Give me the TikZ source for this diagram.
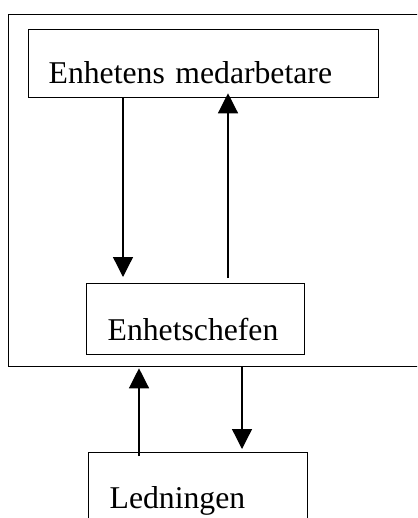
\documentclass[tikz,border=0pt]{standalone}
\usepackage{fontspec}
\setmainfont{Liberation Serif}
\usetikzlibrary{arrows.meta}
\begin{document}
\begin{tikzpicture}[x=1pt, y=-1pt, line width=1.3pt,
  box/.style={draw, rectangle, anchor=north west, inner ysep=0pt,
    align=left, font=\fontsize{31.7}{36}\selectfont},
  arr/.style={-{Triangle[length=20pt,width=20pt]}}]
\useasboundingbox (0,0) rectangle (417,518);
\clip (0,0) rectangle (417,518);

% outer frame (open to the right edge)
\node (frame) [draw, rectangle, anchor=north west, inner sep=0pt,
  minimum width=430pt, minimum height=352pt] at (8,14) {};

% boxes
\node (top) [box, inner xsep=20pt, text width=310pt,
  text height=54pt, text depth=14pt] at (28,29) {Enhetens medarbetare};
\node (mid) [box, inner xsep=21pt, text width=176pt,
  text height=57pt, text depth=14pt] at (86,283) {Enhetschefen};
\node (led) [box, inner xsep=21pt, text width=177pt,
  text height=56pt, text depth=16pt] at (88,452) {Ledningen};

% columns of the connectors
\coordinate (c1) at (123,0);
\coordinate (c2) at (228,0);
\coordinate (c3) at (139,0);
\coordinate (c4) at (242,0);

% connectors
\draw[arr] (top.south -| c1) -- ([yshift=6pt]mid.north -| c1);
\draw[arr] ([yshift=5pt]mid.north -| c2) -- ([yshift=5pt]top.south -| c2);
\draw[arr] ([yshift=-4pt]led.north -| c3) -- ([yshift=-1pt]frame.south -| c3);
\draw[arr] (frame.south -| c4) -- ([yshift=3pt]led.north -| c4);
\end{tikzpicture}
\end{document}
